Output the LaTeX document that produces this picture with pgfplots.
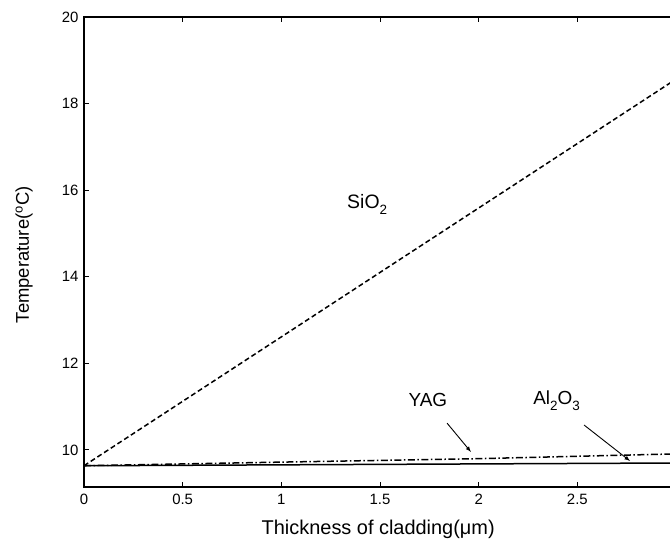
\documentclass[border=0pt]{standalone}
\usepackage{pgfplots}
\pgfplotsset{compat=1.18}
\usepackage{fontspec}
\setmainfont{Liberation Sans}
\newcommand{\sub}[1]{\raisebox{-0.55ex}{\fontsize{13.5}{14}\selectfont #1}}
\begin{document}
\begin{tikzpicture}
\useasboundingbox (-84bp,-53bp) rectangle (586bp,487bp);
\clip (-84bp,-53bp) rectangle (586bp,487bp);
\begin{axis}[
  at={(0,0)}, anchor=south west,
  scale only axis, width=592bp, height=470bp,
  xmin=0, xmax=3, ymin=9.1455, ymax=20,
  xtick={0,0.5,...,3}, ytick={10,12,...,20},
  tick align=inside, major tick length=5bp,
  axis line style={line width=1.8bp},
  every tick/.style={black, line width=1bp},
  /pgf/number format/assume math mode=true,
  tick label style={font=\fontsize{15}{17}\selectfont},
  xticklabel style={yshift=-4bp},
  yticklabel style={xshift=-2bp},
  xlabel={Thickness of cladding(μm)},
  ylabel={Temperature(\textsuperscript{o}C)},
  xlabel style={font=\fontsize{20}{22}\selectfont, at={(axis description cs:0.497,-0.102)}, anchor=base},
  ylabel style={font=\fontsize{18.5}{20}\selectfont, at={(axis description cs:-0.101,0.494)}, anchor=center},
  clip=false,
]
\addplot[black, line width=1.5bp, dash pattern=on 5bp off 3bp] coordinates {(0,9.636) (3,18.565)};
\addplot[black, line width=1.5bp, dash pattern=on 7bp off 2.5bp on 1.5bp off 2.5bp] coordinates {(0,9.636) (1,9.72) (2,9.80) (3,9.91)};
\addplot[black, line width=1.5bp] coordinates {(0,9.636) (3,9.70)};
\node[anchor=base west, font=\fontsize{19.5}{21}\selectfont, inner sep=0pt] at (axis cs:1.333,15.58) {SiO\sub{2}};
\node[anchor=base west, font=\fontsize{19}{21}\selectfont, inner sep=0pt] at (axis cs:1.644,11.0) {YAG};
\node[anchor=base west, font=\fontsize{19}{21}\selectfont, inner sep=0pt] at (axis cs:2.276,11.04) {Al\sub{2}O\sub{3}};
\draw[-latex, line width=0.9bp] (axis cs:1.840,10.62) -- (axis cs:1.961,9.954);
\draw[-latex, line width=0.9bp] (axis cs:2.534,10.577) -- (axis cs:2.767,9.746);
\end{axis}
\end{tikzpicture}
\end{document}
